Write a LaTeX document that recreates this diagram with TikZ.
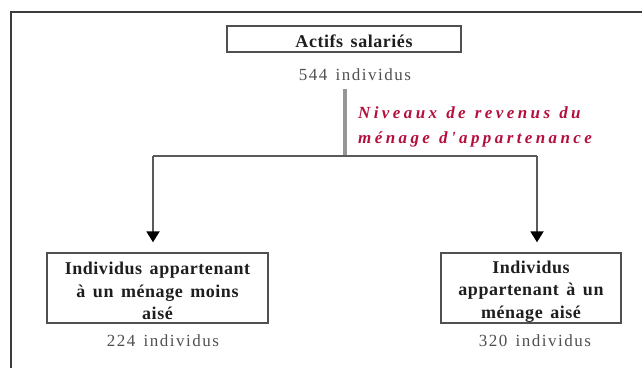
\documentclass[tikz,border=0pt]{standalone}
\usepackage{fontspec}
\setmainfont{Liberation Serif}
\newfontfamily\boxfont{Liberation Serif}[LetterSpace=3,WordSpace=1.5]
\newfontfamily\countfont{Liberation Serif}[LetterSpace=9,WordSpace=1.4]
\newfontfamily\notefont{Liberation Serif}[LetterSpace=20,WordSpace=1.2]
\usepackage{tikz}
\usetikzlibrary{arrows.meta}
\definecolor{framegray}{RGB}{60,60,60}
\definecolor{boxgray}{RGB}{80,80,80}
\definecolor{boxtext}{RGB}{30,30,30}
\definecolor{counttext}{RGB}{80,80,80}
\definecolor{linkgray}{RGB}{90,90,90}
\definecolor{bargray}{RGB}{150,150,150}
\definecolor{notered}{RGB}{180,15,60}
\newcommand{\boxstrut}{\rule{0pt}{19pt}}

\begin{document}
\begin{tikzpicture}[x=1pt,y=-1pt,
  block/.style={draw=boxgray, line width=1.4pt, inner sep=0pt, align=center,
    text=boxtext, font=\boxfont\bfseries\fontsize{18}{22.5}\selectfont},
  count/.style={anchor=base, inner sep=0pt, text=counttext,
    font=\countfont\fontsize{17}{19}\selectfont},
  note/.style={anchor=north west, inner sep=0pt, align=left, text=notered,
    font=\notefont\bfseries\itshape\fontsize{17}{25}\selectfont},
  link/.style={draw=linkgray, line width=2pt},
  tip/.style={-{Triangle[width=13pt,length=11pt,color=black]}, shorten >=10pt}]
  \useasboundingbox (0,0) rectangle (642,368);
  % 外框：只露出上边与左边
  \draw[framegray, line width=2pt] (11,368) -- (11,12) -- (642,12);
  % 顶部方框与人数
  \node[block, minimum width=234pt, minimum height=26pt, text height=17pt, text depth=0pt] (actifs) at (344,39) {\hspace*{20pt}Actifs salariés};
  \node[count] (n544) at (355,80) {544 individus};
  % 分支：灰色粗线、红色斜体说明
  \coordinate (split) at (345,156);
  \coordinate (lturn) at (153,156);
  \coordinate (rturn) at (537,156);
  \draw[bargray, line width=4pt, shorten <=9pt] (n544.south -| split) -- (split);
  \node[note] (revenus) at (358,106) {Niveaux de revenus du\\ménage d'appartenance};
  % 底部两个方框及人数
  \node[block, minimum width=221pt, minimum height=70pt] (lbox) at (157.5,288) {\boxstrut Individus appartenant\\à un ménage moins\\aisé};
  \node[block, minimum width=180pt, minimum height=70pt] (rbox) at (531,288) {\boxstrut Individus\\appartenant à un\\ménage aisé};
  \node[count] (n224) at (163,346) {224 individus};
  \node[count] (n320) at (535,346) {320 individus};
  % 连线与箭头
  \draw[link] (lturn) -- (rturn);
  \draw[link, tip] (lturn) -- (lturn |- lbox.north);
  \draw[link, tip] (rturn) -- (rturn |- rbox.north);
\end{tikzpicture}
\end{document}
